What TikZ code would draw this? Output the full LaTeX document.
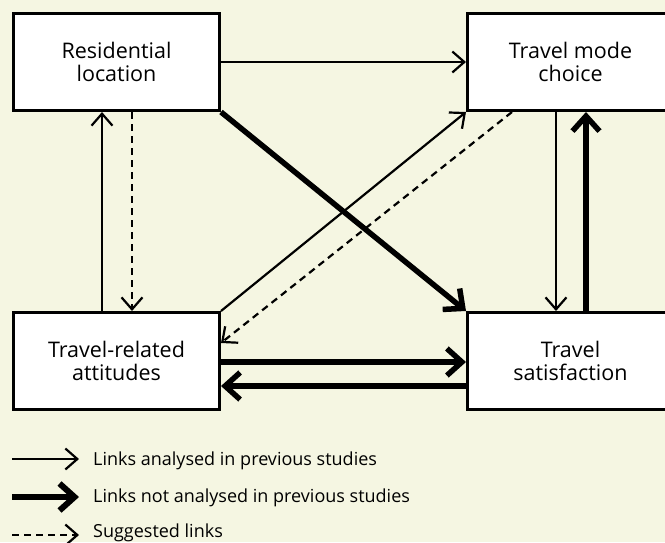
\documentclass[tikz,border=0pt]{standalone}
\usepackage{fontspec}
\setmainfont{Open Sans}
\usetikzlibrary{arrows.meta}
\definecolor{bgcream}{RGB}{245,246,226}
\begin{document}
\begin{tikzpicture}[x=1pt,y=-1pt,
  box/.style={draw, line width=3pt, fill=white, minimum width=206pt,
    minimum height=97pt, inner sep=0pt, align=center,
    font=\fontsize{21.5}{23.5}\selectfont},
  thinlink/.style={line width=2.2pt, -{Straight Barb[length=12pt,width=21pt]}},
  thicklink/.style={line width=5.5pt, -{Straight Barb[length=15pt,width=27pt]}},
  suggested/.style={line width=2.2pt, dash pattern=on 7pt off 5pt,
    -{Straight Barb[length=12pt,width=21pt]}},
  legendtext/.style={anchor=base west, inner sep=0pt, font=\fontsize{18}{21}\selectfont}]

  % canvas
  \useasboundingbox (0,0) rectangle (665,542);
  \clip (0,0) rectangle (665,542);
  \fill[bgcream] (0,0) rectangle (665,542);

  % the four factors
  \node[box] (res) at (116.5,62)  {Residential\\location};
  \node[box] (tmc) at (570.5,62)  {Travel mode\\choice};
  \node[box] (tra) at (116.5,361) {Travel-related\\attitudes};
  \node[box] (ts)  at (570.5,361) {Travel\\satisfaction};

  % links between them
  \draw[thinlink]  (res.east) -- (tmc.west);
  \draw[thinlink]  ([xshift=-14.5pt]tra.north) -- ([xshift=-14.5pt]res.south);
  \draw[suggested] ([xshift=15.5pt]res.south) -- ([xshift=15.5pt]tra.north);
  \draw[thicklink] (res.south east) -- (ts.north west);
  \draw[thinlink]  (tra.north east) -- (tmc.south west);
  \draw[suggested] ([xshift=-58.5pt]tmc.south) -- ([yshift=18pt]tra.east);
  \draw[thinlink]  ([xshift=-14.5pt]tmc.south) -- ([xshift=-14.5pt]ts.north);
  \draw[thicklink] ([xshift=15.5pt]ts.north) -- ([xshift=15.5pt]tmc.south);
  \draw[thicklink] ([yshift=-1pt]tra.east) -- ([yshift=-1pt]ts.west);
  \draw[thicklink] ([yshift=-25pt]ts.west) -- ([yshift=-25pt]tra.east);

  % key
  \coordinate (k1a) at (12,459);
  \coordinate (k1b) at (79,459);
  \coordinate (k2a) at (12,497);
  \coordinate (k2b) at (79,497);
  \coordinate (k3a) at (12,535);
  \coordinate (k3b) at (79,535);
  \draw[thinlink]  (k1a) -- (k1b);
  \draw[thicklink, line width=6pt] (k2a) -- (k2b);
  \draw[suggested] (k3a) -- (k3b);
  \node[legendtext] (k1) at (93,465) {Links analysed in previous studies};
  \node[legendtext] (k2) at (93,502) {Links not analysed in previous studies};
  \node[legendtext] (k3) at (93,537) {Suggested links};
\end{tikzpicture}
\end{document}
